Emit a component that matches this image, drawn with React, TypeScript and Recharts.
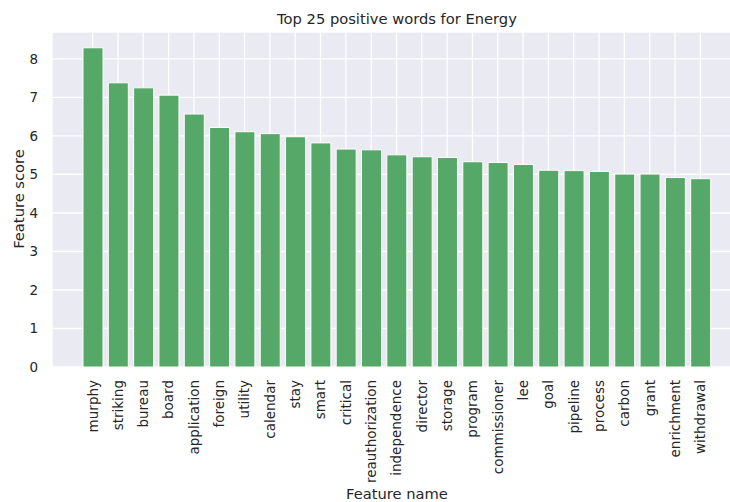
import React from 'react';
import { BarChart, Bar, XAxis, YAxis, CartesianGrid } from 'recharts';

// Feature names, in the order shown (highest score first)
const words = [
  'murphy', 'striking', 'bureau', 'board', 'application', 'foreign', 'utility',
  'calendar', 'stay', 'smart', 'critical', 'reauthorization', 'independence',
  'director', 'storage', 'program', 'commissioner', 'lee', 'goal', 'pipeline',
  'process', 'carbon', 'grant', 'enrichment', 'withdrawal',
];

// Scores
const scores = [
  8.29, 7.38, 7.25, 7.06, 6.57, 6.22, 6.11, 6.06, 5.98, 5.82, 5.66, 5.64, 5.51,
  5.46, 5.44, 5.33, 5.31, 5.26, 5.11, 5.10, 5.08, 5.01, 5.01, 4.92, 4.89,
];

const yTicks = [0, 1, 2, 3, 4, 5, 6, 7, 8];

const data = words.map((w, i) => ({ name: w, score: scores[i] }));

const FONT = "'DejaVu Sans', sans-serif";
const TEXT = '#262626';

// rotated category label, hanging down from under the axis
const WordTick = (props: any) => {
  const { x, payload } = props;
  return (
    <g transform={`translate(${x},380)`}>
      <text
        transform="rotate(-90)"
        textAnchor="end"
        dy="0.36em"
        fill={TEXT}
        fontSize={13.5}
        fontFamily={FONT}
      >
        {payload.value}
      </text>
    </g>
  );
};

const App = () => {
  return (
    <div
      style={{
        position: 'fixed',
        top: 0,
        left: 0,
        width: 730,
        height: 502,
        overflow: 'hidden',
        background: '#fff',
      }}
    >
      <BarChart
        width={743}
        height={502}
        data={data}
        margin={{ top: 32, right: 0, left: 12, bottom: 2 }}
      >
        <CartesianGrid fill="#EAEAF2" stroke="#fff" strokeWidth={1.3} />
        <XAxis
          dataKey="name"
          interval={0}
          height={133}
          padding={{ left: 28, right: 30 }}
          axisLine={false}
          tickLine={false}
          tick={<WordTick />}
        />
        <YAxis
          width={40}
          domain={[0, 8.7]}
          ticks={yTicks}
          axisLine={false}
          tickLine={false}
          tickSize={0}
          tickMargin={14}
          tick={{ fill: TEXT, fontSize: 13.5, fontFamily: FONT }}
        />
        <Bar
          dataKey="score"
          fill="#55A868"
          stroke="#fff"
          strokeWidth={1}
          barSize={20}
          isAnimationActive={false}
        />
        <text x={397} y={24} textAnchor="middle" fill={TEXT} fontSize={14.7} fontFamily={FONT}>
          Top 25 positive words for Energy
        </text>
        <text x={397} y={499} textAnchor="middle" fill={TEXT} fontSize={14.7} fontFamily={FONT}>
          Feature name
        </text>
        <text
          transform="translate(23.5,199) rotate(-90)"
          textAnchor="middle"
          fill={TEXT}
          fontSize={14.7}
          fontFamily={FONT}
        >
          Feature score
        </text>
      </BarChart>
    </div>
  );
};

export default App;
